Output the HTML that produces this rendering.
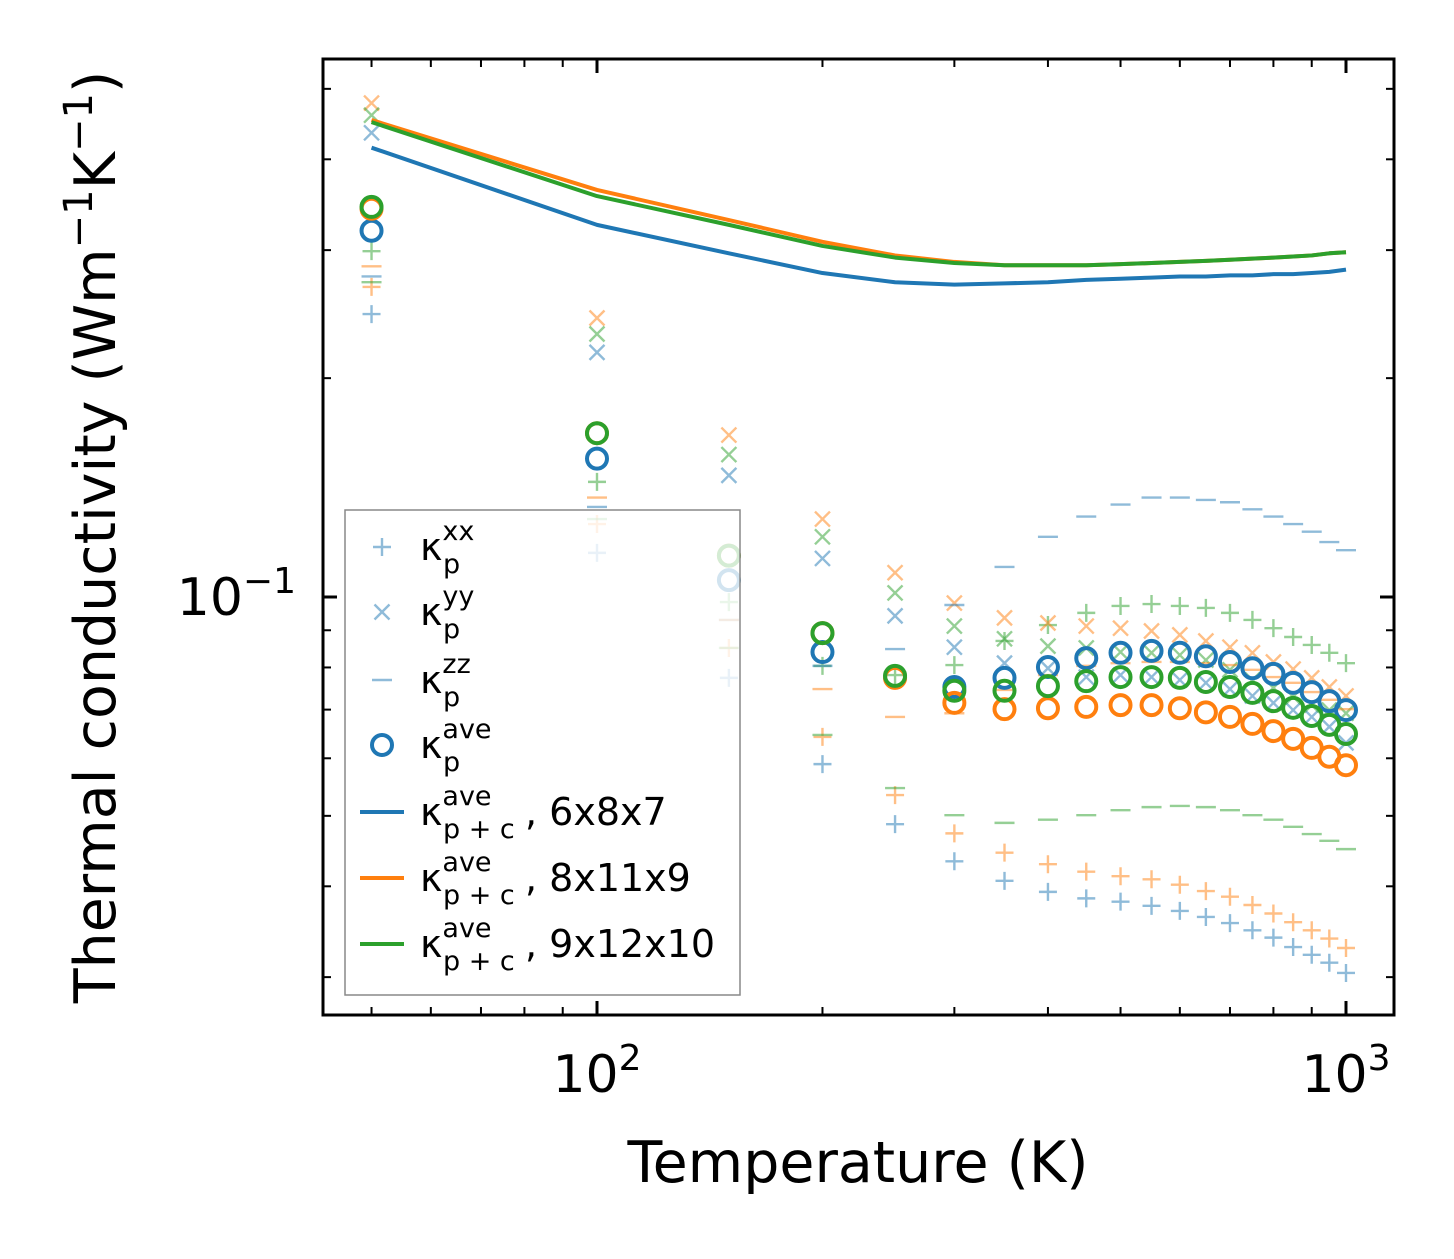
<!DOCTYPE html>
<html><head><meta charset="utf-8"><style>
html,body{margin:0;padding:0;background:#fff;}
svg text{font-family:"DejaVu Sans","Liberation Sans",sans-serif;fill:#000;}
</style></head><body>
<svg id="chart" width="1454" height="1254" xmlns="http://www.w3.org/2000/svg">
<rect width="1454" height="1254" fill="#fff"/>
<g id="plot"></g>
<rect x="323" y="59" width="1071" height="956" fill="none" stroke="#000" stroke-width="3"/>
<g id="ticks"></g>
<text x="296" y="615" font-size="52" text-anchor="end">10<tspan dy="-22" font-size="36">−1</tspan></text>
<text x="597" y="1092" font-size="52" text-anchor="middle">10<tspan dy="-22" font-size="36">2</tspan></text>
<text x="1346" y="1092" font-size="52" text-anchor="middle">10<tspan dy="-22" font-size="36">3</tspan></text>
<text x="858" y="1182" font-size="57" text-anchor="middle">Temperature (K)</text>
<text transform="translate(115,537) rotate(-90)" font-size="57" text-anchor="middle">Thermal conductivity (Wm<tspan dy="-23" font-size="40">−1</tspan><tspan dy="23">K</tspan><tspan dy="-23" font-size="40">−1</tspan><tspan dy="23">)</tspan></text>
<g id="legend"></g>
</svg>
<script>
const temps=[50,100,150,200,250,300,350,400,450,500,550,600,650,700,750,800,850,900,950,1000];
const blueXX=[0.245,0.115,0.0774,0.0589,0.0487,0.0433,0.0407,0.0393,0.0385,0.0381,0.0376,0.0370,0.0363,0.0356,0.0348,0.0340,0.0330,0.0322,0.0314,0.0304];
const orangeXX=[0.267,0.126,0.0851,0.0642,0.0534,0.0473,0.0445,0.0429,0.0419,0.0413,0.0409,0.0402,0.0394,0.0387,0.0377,0.0367,0.0357,0.0348,0.0339,0.0329];
const greenXX=[0.299,0.144,0.0984,0.0804,0.0781,0.0806,0.0870,0.0915,0.0951,0.0972,0.0978,0.0972,0.0966,0.0951,0.0930,0.0906,0.0881,0.0859,0.0838,0.0811];
const blueYY=[0.435,0.217,0.147,0.113,0.0942,0.0853,0.0811,0.0798,0.0776,0.0781,0.0776,0.0769,0.0762,0.0747,0.0731,0.0715,0.0699,0.0684,0.0663,0.0630];
const orangeYY=[0.478,0.242,0.167,0.128,0.108,0.0981,0.0936,0.0921,0.0912,0.0906,0.0898,0.0887,0.0870,0.0853,0.0838,0.0814,0.0796,0.0774,0.0752,0.0731];
const greenYY=[0.460,0.230,0.157,0.121,0.1013,0.0912,0.0876,0.0856,0.0851,0.0840,0.0838,0.0832,0.0819,0.0794,0.0769,0.0750,0.0729,0.0710,0.0699,0.0692];
const blueZZ=[0.276,0.133,0.0930,0.0804,0.0848,0.0975,0.110,0.121,0.129,0.134,0.137,0.137,0.136,0.135,0.132,0.129,0.126,0.123,0.119,0.116];
const orangeZZ=[0.285,0.137,0.0930,0.0747,0.0684,0.0692,0.0745,0.0781,0.0804,0.0811,0.0814,0.0814,0.0811,0.0806,0.0794,0.0776,0.0762,0.0740,0.0722,0.0701];
const greenZZ=[0.271,0.128,0.0851,0.0646,0.0546,0.0501,0.0489,0.0494,0.0501,0.0509,0.0514,0.0516,0.0514,0.0509,0.0501,0.0494,0.0483,0.0472,0.0462,0.0450];
const blueAve=[0.319,0.155,0.1055,0.0840,0.0776,0.0752,0.0774,0.0801,0.0824,0.0838,0.0843,0.0838,0.0829,0.0814,0.0798,0.0784,0.0762,0.0740,0.0719,0.0699];
const orangeAve=[0.342,0.168,0.114,0.0892,0.0774,0.0715,0.0701,0.0703,0.0706,0.0710,0.0710,0.0703,0.0694,0.0684,0.0669,0.0654,0.0638,0.0620,0.0603,0.0587];
const greenAve=[0.344,0.168,0.114,0.0892,0.0779,0.0743,0.0743,0.0754,0.0766,0.0776,0.0776,0.0774,0.0764,0.0752,0.0738,0.0719,0.0704,0.0686,0.0667,0.0648];
const blueLine=[0.415,0.325,0.297,0.279,0.271,0.269,0.270,0.271,0.273,0.274,0.275,0.276,0.276,0.277,0.277,0.278,0.278,0.279,0.280,0.282];
const orangeLine=[0.453,0.363,0.330,0.308,0.295,0.289,0.286,0.286,0.286,0.287,0.288,0.289,0.290,0.291,0.292,0.293,0.294,0.295,0.297,0.298];
const greenLine=[0.450,0.356,0.325,0.304,0.293,0.288,0.286,0.286,0.286,0.287,0.288,0.289,0.290,0.291,0.292,0.293,0.294,0.295,0.297,0.298];
const xMinorTicks=[50,60,70,80,90,200,300,400,500,600,700,800,900];
const xMajorTicks=[100,1000];
const yMinorTicks=[0.03,0.04,0.05,0.06,0.07,0.08,0.09,0.2,0.3,0.4,0.5];
const yMajorTicks=[0.1];

const NS="http://www.w3.org/2000/svg";
const X=t=>597+749*Math.log10(t/100);
const Y=v=>597-727*Math.log10(v/0.1);
const C={blue:"#1f77b4",orange:"#ff7f0e",green:"#2ca02c"};
const plot=document.getElementById("plot");
function mk(tag,attrs,parent){const e=document.createElementNS(NS,tag);for(const k in attrs)e.setAttribute(k,attrs[k]);parent.appendChild(e);return e;}
function marker(kind,cx,cy,col,parent,alpha){
  const g=mk("g",{stroke:col,"stroke-width":kind==="o"?4:2.4,fill:"none",opacity:alpha},parent);
  const s=9;
  if(kind==="+"){mk("path",{d:`M${cx-s} ${cy}H${cx+s}M${cx} ${cy-s}V${cy+s}`},g);}
  else if(kind==="x"){mk("path",{d:`M${cx-7.5} ${cy-7.5}L${cx+7.5} ${cy+7.5}M${cx-7.5} ${cy+7.5}L${cx+7.5} ${cy-7.5}`},g);}
  else if(kind==="_"){mk("path",{d:`M${cx-10} ${cy}H${cx+10}`},g);}
  else {mk("circle",{cx:cx,cy:cy,r:10},g);}
  return g;
}
const scatter=[["+",blueXX,"blue"],["+",orangeXX,"orange"],["+",greenXX,"green"],
 ["x",blueYY,"blue"],["x",orangeYY,"orange"],["x",greenYY,"green"],
 ["_",blueZZ,"blue"],["_",orangeZZ,"orange"],["_",greenZZ,"green"]];
scatter.forEach(([k,arr,c])=>{arr.forEach((v,i)=>{
  const g=marker(k,X(temps[i]),Y(v),C[c],plot,0.5);
  
  
});});
[[blueLine,"blue"],[orangeLine,"orange"],[greenLine,"green"]].forEach(([arr,c])=>{
  const p=mk("polyline",{points:arr.map((v,i)=>X(temps[i])+","+Y(v)).join(" "),fill:"none",stroke:C[c],"stroke-width":4,"stroke-linejoin":"round"},plot);
  
  
});
[[blueAve,"blue"],[orangeAve,"orange"],[greenAve,"green"]].forEach(([arr,c])=>{arr.forEach((v,i)=>{
  const g=marker("o",X(temps[i]),Y(v),C[c],plot,1);
  
  
});});
const tk=document.getElementById("ticks");
function tick(x1,y1,x2,y2,w){const l=mk("line",{x1,y1,x2,y2,stroke:"#000","stroke-width":w},tk);
  
  }
xMajorTicks.forEach(t=>{const x=X(t);tick(x,1015,x,1001,3);tick(x,59,x,73,3);});
xMinorTicks.forEach(t=>{const x=X(t);tick(x,1015,x,1007,2);tick(x,59,x,67,2);});
yMajorTicks.forEach(v=>{const y=Y(v);tick(323,y,337,y,3);tick(1394,y,1380,y,3);});
yMinorTicks.forEach(v=>{const y=Y(v);tick(323,y,331,y,2);tick(1394,y,1386,y,2);});
// legend
const lg=document.getElementById("legend");
mk("rect",{x:345,y:510,width:395,height:485,fill:"#fff","fill-opacity":0.8,stroke:"#888","stroke-width":1.5},lg);
const entries=[["+","blue","xx",""],["x","blue","yy",""],["_","blue","zz",""],["o","blue","ave",""],
 ["line","blue","ave",", 6x8x7"],["line","orange","ave",", 8x11x9"],["line","green","ave",", 9x12x10"]];
const ey=[547,612,680,745,812,878,944];
entries.forEach((e,i)=>{
  const y=ey[i];
  const g=mk("g",{},lg);
  
  
  if(e[0]==="line"){mk("line",{x1:360,y1:y,x2:404,y2:y,stroke:C[e[1]],"stroke-width":4},g);}
  else marker(e[0],382,y,C[e[1]],g,e[0]==="o"?1:0.5);
  const sub=e[0]==="line"?"p + c":"p";
  const t=mk("text",{x:420,y:y+13,"font-size":38},g);
  t.innerHTML=`κ<tspan font-size="27" dy="-20">${e[2]}</tspan><tspan font-size="27" x="${420+23}" dy="33">${sub}</tspan>`;
  if(e[3]){const t2=mk("text",{x:525,y:y+13,"font-size":38},g);t2.textContent=e[3];}
});
</script>
</body></html>
